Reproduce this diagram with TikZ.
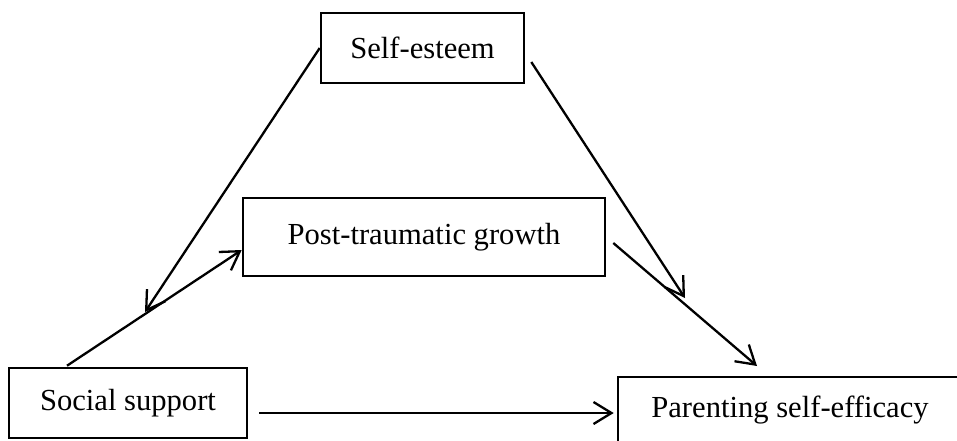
\documentclass[tikz,border=0pt]{standalone}
\usepackage{fontspec}
\setmainfont{Liberation Serif}
\usetikzlibrary{arrows.meta,calc}

\begin{document}
\begin{tikzpicture}[x=1pt,y=-1pt]
		\useasboundingbox (0,0) rectangle (957,440);
		\clip (0,0) rectangle (957,440);

		\begin{scope}[every node/.style={rectangle,draw,line width=2.6pt,font=\fontsize{30.6}{36}\selectfont}]
			\node[minimum width=203pt,minimum height=70pt] (esteem) at (422.5,48) {Self-esteem};
			\node[minimum width=362pt,minimum height=78pt] (growth) at (424,237) {Post-traumatic growth};
			\node[minimum width=238pt,minimum height=70pt] (social) at (128,403) {Social support};
			\node[minimum width=344pt,minimum height=66pt] (parenting) at (790,410) {Parenting self-efficacy};
		\end{scope}

		\coordinate (tipA) at (145,312);
		\coordinate (tipB) at (685,298);
		\coordinate (tipC) at (757,366);

		\begin{scope}[every edge/.style={draw=black, line width=2.3pt}]
			\path [-{Straight Barb[length=18pt,width=22pt]}] (esteem.west) edge (tipA);
			\path [-{Straight Barb[length=18pt,width=22pt]}] ($(esteem.east)+(6,14)$) edge (tipB);
			\path [-{Straight Barb[length=18pt,width=22pt]}] ($(social.north)+(-61,-1)$) edge ($(growth.west)+(0,13)$);
			\path [-{Straight Barb[length=18pt,width=22pt]}] ($(growth.east)+(7,6)$) edge (tipC);
			\path [-{Straight Barb[length=18pt,width=22pt]}] ($(social.east)+(11,10)$) edge ($(parenting.west)+(-3,3)$);
		\end{scope}


	\end{tikzpicture}
\end{document}
